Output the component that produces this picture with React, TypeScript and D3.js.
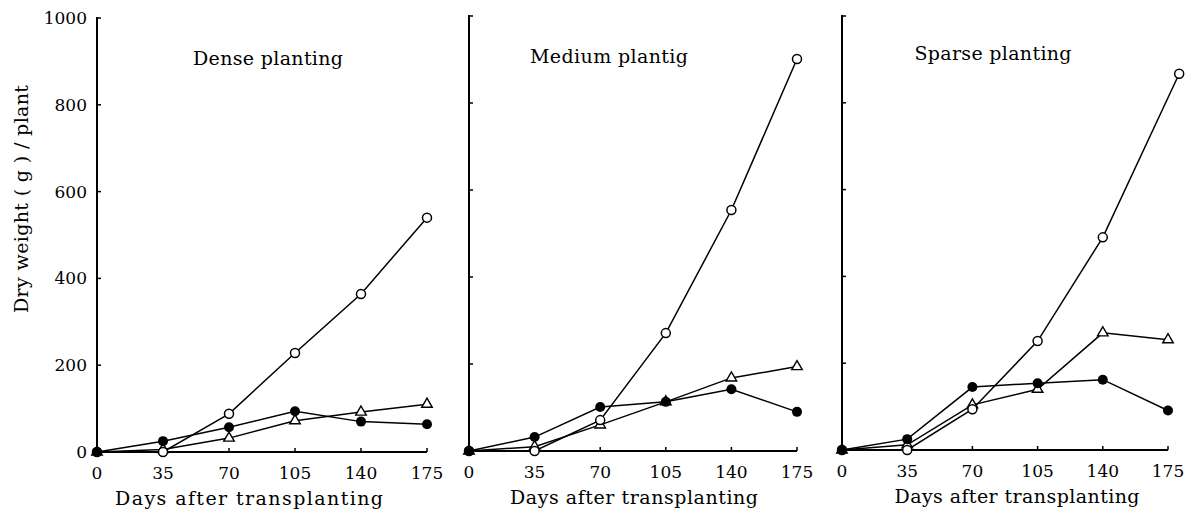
import React, { useEffect, useRef } from 'react';
import * as d3 from 'd3';

// days after transplanting
const days = [0, 35, 70, 105, 140, 175];
// the last open circle in the sparse panel sits a little right of 175
const sparseOpenDays = [0, 35, 70, 105, 140, 181];
const xTicks = [0, 35, 70, 105, 140, 175];
const yTicks = [0, 200, 400, 600, 800, 1000];

const denseOpen = [0, 0, 88, 228, 364, 540];
const denseFilled = [0, 25, 57, 94, 70, 64];
const denseTri = [0, 6, 32, 72, 92, 110];

const mediumOpen = [0, 0, 71, 271, 554, 901];
const mediumFilled = [0, 32, 101, 113, 142, 90];
const mediumTri = [0, 10, 60, 113, 168, 194];

const sparseOpen = [0, 0, 94, 251, 490, 867];
const sparseFilled = [0, 25, 145, 154, 162, 91];
const sparseTri = [0, 12, 104, 140, 270, 254];

const titles = ['Dense planting', 'Medium plantig', 'Sparse planting'];

const FONT = "'DejaVu Serif', serif";

const panels = [
    { title: titles[0], x0: 97, x1: 427, yTop: 18, yBot: 452, tx: 268, ty: 65, tw: 150, lx: 249, lw: 268, yLabels: true,
      open: { d: days, v: denseOpen }, filled: denseFilled, tri: denseTri },
    { title: titles[1], x0: 469, x1: 797, yTop: 16, yBot: 451, tx: 609, ty: 63, tw: 158, lx: 634, lw: 248, yLabels: false,
      open: { d: days, v: mediumOpen }, filled: mediumFilled, tri: mediumTri },
    { title: titles[2], x0: 842, x1: 1168, yTop: 16, yBot: 450, tx: 993, ty: 60, tw: 157, lx: 1017, lw: 245, yLabels: false,
      open: { d: sparseOpenDays, v: sparseOpen }, filled: sparseFilled, tri: sparseTri },
];

const App = () => {
    const svgRef = useRef(null);

    useEffect(() => {
        const svg = d3.select(svgRef.current);
        svg.selectAll('*').remove();
        const width = 1199;
        const height = 516;
        svg.append('rect').attr('width', width).attr('height', height).attr('fill', '#fff');

        panels.forEach(p => {
            const g = svg.append('g').style('font-family', FONT);
            const x = d3.scaleLinear().domain([0, 175]).range([p.x0, p.x1]);
            const y = d3.scaleLinear().domain([0, 1000]).range([p.yBot, p.yTop]);

            // axes
            g.append('line').attr('x1', x(0)).attr('x2', x(0)).attr('y1', y(1000) - 1).attr('y2', y(0))
                .attr('stroke', '#000').attr('stroke-width', 2);
            g.append('line').attr('x1', x(0)).attr('x2', x(175)).attr('y1', y(0)).attr('y2', y(0))
                .attr('stroke', '#000').attr('stroke-width', 2);

            g.selectAll('.ytick').data(yTicks.slice(1)).enter().append('line')
                .attr('x1', x(0)).attr('x2', x(0) + 4)
                .attr('y1', d => y(d)).attr('y2', d => y(d))
                .attr('stroke', '#000').attr('stroke-width', 1.5);
            g.selectAll('.xtick').data(xTicks.slice(1)).enter().append('line')
                .attr('x1', d => x(d)).attr('x2', d => x(d))
                .attr('y1', y(0)).attr('y2', y(0) - 4)
                .attr('stroke', '#000').attr('stroke-width', 1.5);

            g.selectAll('.xlab').data(xTicks).enter().append('text')
                .attr('x', d => x(d)).attr('y', y(0) + 27)
                .attr('text-anchor', 'middle')
                .style('font-size', '17px')
                .text(d => d);

            if (p.yLabels) {
                g.selectAll('.ylab').data(yTicks).enter().append('text')
                    .attr('x', x(0) - 10).attr('y', d => y(d) + 6)
                    .attr('text-anchor', 'end')
                    .style('font-size', '17px')
                    .text(d => d);
                g.append('text')
                    .attr('transform', 'translate(28,199) rotate(-90)')
                    .attr('text-anchor', 'middle')
                    .style('font-size', '19px')
                    .attr('textLength', 228).attr('lengthAdjust', 'spacing')
                    .text('Dry weight ( g ) / plant');
            }

            g.append('text')
                .attr('x', p.tx).attr('y', p.ty)
                .attr('text-anchor', 'middle')
                .style('font-size', '19px')
                .attr('textLength', p.tw).attr('lengthAdjust', 'spacing')
                .text(p.title);

            g.append('text')
                .attr('x', p.lx).attr('y', y(0) + 53)
                .attr('text-anchor', 'middle')
                .style('font-size', '19px')
                .attr('textLength', p.lw).attr('lengthAdjust', 'spacing')
                .text('Days after transplanting');

            const line = d3.line().x(d => x(d[0])).y(d => y(d[1]));
            const openPts = p.open.d.map((d, i) => [d, p.open.v[i]]);
            const filledPts = days.map((d, i) => [d, p.filled[i]]);
            const triPts = days.map((d, i) => [d, p.tri[i]]);

            [openPts, filledPts, triPts].forEach(pts => {
                g.append('path').datum(pts).attr('d', line)
                    .attr('fill', 'none').attr('stroke', '#000').attr('stroke-width', 1.5);
            });

            const tri = d3.symbol().type(d3.symbolTriangle).size(48);
            g.selectAll('.tri').data(triPts).enter().append('path')
                .attr('d', tri)
                .attr('transform', d => `translate(${x(d[0])},${y(d[1])})`)
                .attr('fill', '#fff').attr('stroke', '#000').attr('stroke-width', 1.4);
            g.selectAll('.open').data(openPts).enter().append('circle')
                .attr('cx', d => x(d[0])).attr('cy', d => y(d[1])).attr('r', 4.5)
                .attr('fill', '#fff').attr('stroke', '#000').attr('stroke-width', 1.5);
            g.selectAll('.filled').data(filledPts).enter().append('circle')
                .attr('cx', d => x(d[0])).attr('cy', d => y(d[1])).attr('r', 5)
                .attr('fill', '#000');
        });
    }, []);

    return (
        <div style={{ position: 'absolute', left: 0, top: 0 }}>
            <svg ref={svgRef} width="1199" height="516" style={{ display: 'block' }}></svg>
        </div>
    );
};

export default App;
